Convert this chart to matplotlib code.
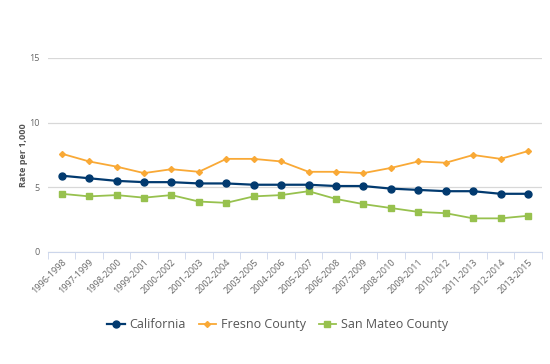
import matplotlib
matplotlib.use("Agg")
import matplotlib.pyplot as plt
import numpy as np

periods = ["1996-1998", "1997-1999", "1998-2000", "1999-2001", "2000-2002", "2001-2003",
           "2002-2004", "2003-2005", "2004-2006", "2005-2007", "2006-2008", "2007-2009",
           "2008-2010", "2009-2011", "2010-2012", "2011-2013", "2012-2014", "2013-2015"]
california = [5.9, 5.7, 5.5, 5.4, 5.4, 5.3, 5.3, 5.2, 5.2, 5.2, 5.1, 5.1, 4.9, 4.8, 4.7, 4.7, 4.5, 4.5]
fresno = [7.6, 7.0, 6.6, 6.1, 6.4, 6.2, 7.2, 7.2, 7.0, 6.2, 6.2, 6.1, 6.5, 7.0, 6.9, 7.5, 7.2, 7.8]
san_mateo = [4.5, 4.3, 4.4, 4.2, 4.4, 3.9, 3.8, 4.3, 4.4, 4.7, 4.1, 3.7, 3.4, 3.1, 3.0, 2.6, 2.6, 2.8]

plt.rcParams['font.family'] = ['Open Sans', 'DejaVu Sans']

fig = plt.figure(figsize=(5.5, 3.64), dpi=100)
ax = fig.add_axes([0.0873, 0.3077, 0.8977, 0.533])

x = np.arange(len(periods))
ax.plot(x, california, color="#023a6f", marker="o", markersize=5, linewidth=1.6, label="California", zorder=4)
ax.plot(x, fresno, color="#f9a936", marker="D", markersize=3, linewidth=1.3, label="Fresno County", zorder=3)
ax.plot(x, san_mateo, color="#97c14e", marker="s", markersize=5, linewidth=1.3, label="San Mateo County", zorder=3)

ax.set_xlim(-0.5, len(periods) - 0.5)
ax.set_ylim(0, 15)
ax.set_yticks([0, 5, 10, 15])
ax.yaxis.grid(True, color="#d8d8d8", linewidth=0.9)
ax.set_axisbelow(True)
for s in ["top", "right", "left"]:
    ax.spines[s].set_visible(False)
ax.spines["bottom"].set_color("#ccd6eb")
ax.tick_params(axis="y", length=0, labelsize=6.5, labelcolor="#666666", pad=6)

# labels at category centers, tick marks at category boundaries
ax.set_xticks(x)
ax.set_xticklabels(periods, rotation=45, ha="right", rotation_mode="anchor",
                   fontsize=6.5, color="#666666")
ax.tick_params(axis="x", length=0, pad=4)
ax.set_xticks(np.arange(-0.5, len(periods) + 0.5, 1), minor=True)
ax.tick_params(axis="x", which="minor", length=5, color="#ccd6eb")

ax.set_ylabel("Rate per 1,000", fontsize=6.5, fontweight="bold", color="#555555", labelpad=1)

fig.legend(loc="lower center", bbox_to_anchor=(0.505, 0.06), ncol=3, frameon=False,
           fontsize=9, labelcolor="#555555", handlelength=1.4, handletextpad=0.4,
           columnspacing=1.0)

fig.savefig("out.png", dpi=100)
